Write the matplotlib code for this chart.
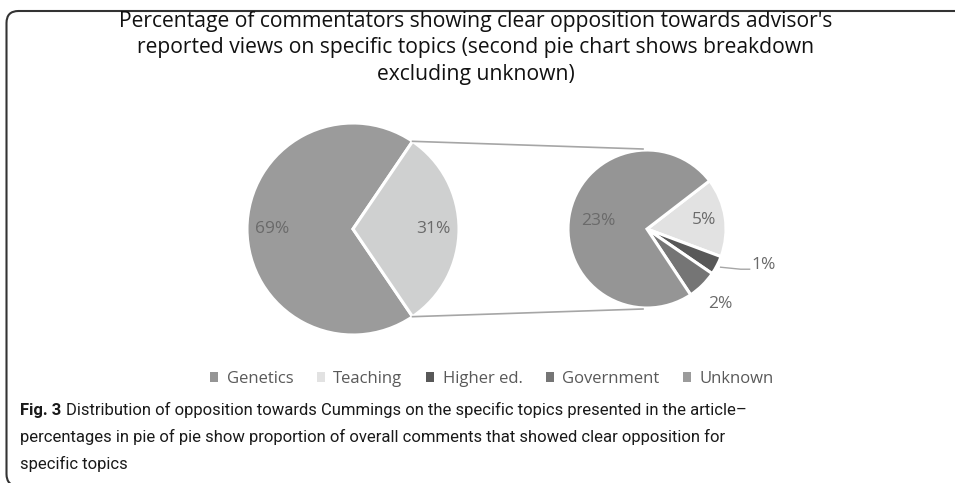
import numpy as np
import matplotlib
matplotlib.use('Agg')
import matplotlib.pyplot as plt
from matplotlib.patches import Patch, FancyBboxPatch

# data (percent of all comments)
main_labels = ['Unknown', 'Other']
main_values = [69, 31]
sub_labels = ['Teaching', 'Higher ed.', 'Government', 'Genetics']
sub_values = [5.0, 1.2, 1.9, 22.9]
legend_order = ['Genetics', 'Teaching', 'Higher ed.', 'Government', 'Unknown']

colors = {'Unknown': '#9b9b9b', 'Other': '#cfd0d0', 'Genetics': '#959595',
          'Teaching': '#e2e2e2', 'Higher ed.': '#585858', 'Government': '#757575'}

title = ("Percentage of commentators showing clear opposition towards advisor's\n"
         "reported views on specific topics (second pie chart shows breakdown\n"
         "excluding unknown)")
caption_lines = ["Distribution of opposition towards Cummings on the specific topics presented in the article\u2013",
                 "percentages in pie of pie show proportion of overall comments that showed clear opposition for",
                 "specific topics"]

W, H = 955, 483
fig = plt.figure(figsize=(W / 100, H / 100), dpi=100)
ax = fig.add_axes([0, 0, 1, 1])

def Y(y):
    return H - y

lab_col = '#6a6a6a'
font = ['Open Sans', 'DejaVu Sans']
cap_font = ['Roboto', 'DejaVu Sans']

# left pie
c1 = (353, Y(229)); r1 = 106
start1 = main_values[1] / 100 * 180
w1, _ = ax.pie(main_values, colors=[colors[k] for k in main_labels], startangle=start1,
               counterclock=True, center=c1, radius=r1,
               wedgeprops=dict(edgecolor='white', linewidth=2.2))

# right pie
c2 = (647, Y(229)); r2 = 79
w2, _ = ax.pie(sub_values, colors=[colors[k] for k in sub_labels], startangle=37.6,
               counterclock=False, center=c2, radius=r2,
               wedgeprops=dict(edgecolor='white', linewidth=2.2))

def mid(w):
    return np.deg2rad((w.theta1 + w.theta2) / 2)

def put(c, r, ang, f, txt, **kw):
    ax.text(c[0] + f * r * np.cos(ang), c[1] + f * r * np.sin(ang), txt,
            ha='center', va='center', fontsize=12.5, color=lab_col, family=font, **kw)

for w, v in zip(w1, main_values):
    put(c1, r1, mid(w), 0.76, f'{v:.0f}%')

dist = {'Genetics': 0.63, 'Teaching': 0.73, 'Government': 1.33}
for w, lab, v in zip(w2, sub_labels, sub_values):
    if lab in dist:
        put(c2, r2, mid(w), dist[lab], f'{v:.0f}%')
    else:
        a = mid(w)
        x0 = c2[0] + 1.05 * r2 * np.cos(a); y0 = c2[1] + 1.05 * r2 * np.sin(a)
        x1 = x0 + 20; y1 = y0 - 2
        ax.plot([x0, x1, x1 + 9], [y0, y1, y1], color='#a6a6a6', lw=1)
        ax.text(x1 + 11, y1 + 4, f'{v:.0f}%', ha='left', va='center', fontsize=12.5,
                color=lab_col, family=font)

# connector lines between the pies
for s in (1, -1):
    a = np.deg2rad(s * start1)
    ax.plot([c1[0] + r1 * np.cos(a), c2[0] - 4], [c1[1] + r1 * np.sin(a), c2[1] + s * (r2 + 1)],
            color='#a6a6a6', lw=1.2)

# title
ax.text(476, Y(48), title, ha='center', va='center', fontsize=15.2, color='#111111',
        family=font, linespacing=1.36)

# legend
handles = [Patch(facecolor=colors[k], edgecolor='none', label=k) for k in legend_order]
ax.legend(handles=handles, loc='center', bbox_to_anchor=(492, Y(379)),
          bbox_transform=ax.transData, ncol=5, frameon=False, handlelength=0.5,
          handleheight=0.5, handletextpad=0.5, columnspacing=1.4,
          prop={'family': font, 'size': 12}, labelcolor='#595959')

# caption: size chosen so the second line is ~702 px wide like the original
rend = fig.canvas.get_renderer()
probe = ax.text(0, 0, caption_lines[1], fontsize=12, family=cap_font)
cap_size = 12 * 702 / probe.get_window_extent(rend).width
probe.remove()

fig_t = ax.text(20, Y(410), 'Fig. 3', ha='left', va='center', fontsize=cap_size, fontweight='bold',
                color='#1a1a1a', family=cap_font)
bold_w = fig_t.get_window_extent(rend).width
ax.text(20 + bold_w + 5, Y(410), caption_lines[0], ha='left', va='center', fontsize=cap_size,
        color='#1a1a1a', family=cap_font)
ax.text(20, Y(437), caption_lines[1], ha='left', va='center', fontsize=cap_size, color='#1a1a1a',
        family=cap_font)
ax.text(20, Y(464), caption_lines[2], ha='left', va='center', fontsize=cap_size, color='#1a1a1a',
        family=cap_font)

# frame
ax.add_patch(FancyBboxPatch((6.5, Y(486)), 990, 475, boxstyle='round,pad=0,rounding_size=12',
                            facecolor='none', edgecolor='#333333', lw=1.5))

ax.set_xlim(0, W)
ax.set_ylim(0, H)
ax.set_aspect('equal')
ax.axis('off')

fig.savefig('out.png', dpi=100)
